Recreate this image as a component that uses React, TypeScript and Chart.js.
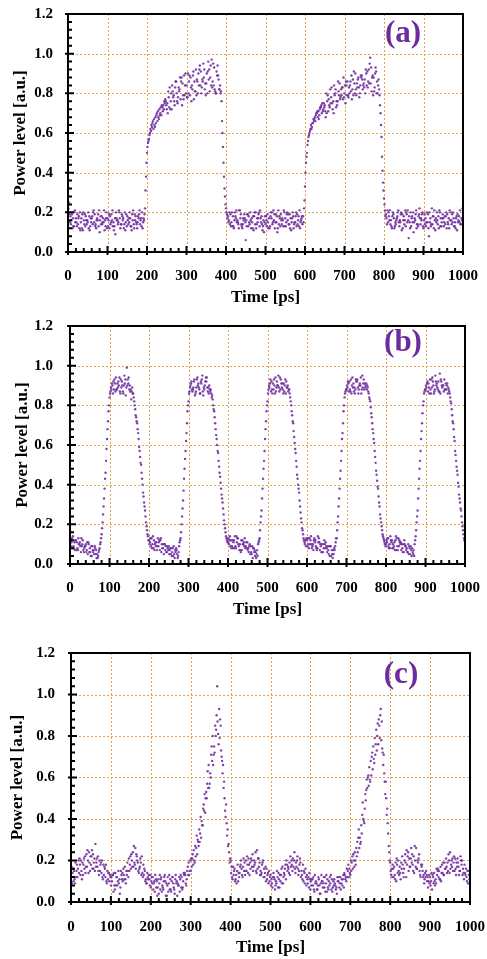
import React, { useEffect, useRef } from "react";
import { Chart, registerables } from "chart.js";

Chart.register(...registerables);

// ---------- axes ----------
const TIME_MIN_PS = 0;
const TIME_MAX_PS = 1000;
const TIME_MAJOR_PS = 100;
const TIME_MINOR_PS = 20;
const POWER_MIN = 0;
const POWER_MAX = 1.2;
const POWER_MAJOR = 0.2;
const POWER_MINOR = 0.04;
const X_TITLE = "Time [ps]";
const Y_TITLE = "Power level [a.u.]";
const PANEL_LABELS = ["(a)", "(b)", "(c)"];

// ---------- sampling ----------
// each trace is sampled every 5 ps; the four traces are interleaved in time
const SAMPLE_STEP_PS = 5;
const TRACE_OFFSETS_PS = [0, 1.25, 2.5, 3.75];
const VALUE_SCALE = 0.01; // values below are in hundredths of an a.u.

// ---------- panel (a) ----------
const A_TRACE_1 = [
  33,15,19,13,17,14,20,12,16,18,
  15,11,17,21,14,16,10,18,15,13,
  17,12,19,15,9,16,20,14,17,11,
  18,15,13,21,16,12,19,17,15,22,
  50,57,61,66,63,70,67,73,71,75,
  72,78,76,81,74,80,83,77,85,79,
  84,80,88,82,86,79,90,84,87,92,
  85,96,88,83,93,80,89,84,66,38,
  22,18,14,20,12,17,15,21,13,16,
  6,19,14,17,11,20,15,13,18,16,
  14,19,12,17,21,15,10,18,16,13,
  17,20,14,11,18,15,19,13,16,18,
  33,50,59,64,65,68,70,67,73,71,
  74,70,77,75,72,79,76,81,78,83,
  80,84,78,86,82,85,79,88,84,87,
  83,90,86,98,88,81,91,84,74,48,
  27,19,15,21,12,17,14,20,16,11,
  18,13,21,15,17,10,19,14,22,16,
  12,17,15,20,14,18,11,16,21,13,
  17,14,19,12,16,20,15,11,18,14,
  30,
];
const A_TRACE_2 = [
  22,18,12,20,15,17,11,19,14,16,
  20,13,18,15,12,19,16,14,21,17,
  13,18,16,11,20,14,17,19,12,15,
  16,20,11,14,18,15,21,13,17,31,
  53,59,64,62,68,66,72,69,74,77,
  75,73,80,78,83,76,81,86,79,84,
  78,86,83,89,81,87,84,91,86,82,
  90,87,94,86,82,91,87,80,60,32,
  20,15,19,13,16,21,14,17,12,19,
  16,13,20,15,18,12,17,21,14,10,
  18,15,13,20,16,19,12,17,14,21,
  13,16,19,15,12,18,14,21,17,15,
  40,54,60,62,67,66,71,69,74,72,
  71,76,74,78,76,80,74,79,82,77,
  84,79,83,81,87,80,85,83,89,82,
  87,84,92,85,89,83,80,87,70,41,
  24,17,20,14,18,12,16,21,15,19,
  14,20,16,12,18,15,21,13,17,19,
  16,13,19,15,22,12,17,14,20,15,
  13,18,15,21,14,17,12,19,15,17,
  32,
];
const A_TRACE_3 = [
  25,14,17,21,13,18,15,11,19,14,
  12,17,14,19,16,13,18,15,11,20,
  16,14,21,13,17,15,12,18,14,19,
  14,17,19,12,15,18,14,20,16,38,
  55,60,63,67,65,71,69,74,72,76,
  70,83,72,79,86,75,82,88,77,90,
  78,89,76,91,81,86,92,80,95,85,
  80,92,84,95,81,89,82,81,53,28,
  19,16,13,18,20,15,12,19,14,17,
  13,18,16,12,20,14,19,17,11,15,
  16,12,18,14,19,15,21,13,17,20,
  15,19,12,17,14,20,16,12,18,22,
  45,56,61,63,66,69,68,72,70,75,
  68,79,73,83,70,82,76,85,79,88,
  75,86,80,89,79,90,83,78,88,84,
  80,91,85,93,79,90,86,82,64,35,
  21,14,18,16,20,13,17,15,19,12,
  16,19,7,20,15,17,12,18,14,20,
  19,15,12,17,14,21,15,18,13,17,
  15,20,14,16,19,13,17,15,21,16,
  34,
];
const A_TRACE_4 = [
  19,16,13,15,19,12,17,20,13,16,
  18,15,20,13,17,21,14,17,16,12,
  19,15,13,17,16,21,14,16,20,13,
  17,13,16,19,14,17,16,12,19,45,
  56,62,65,64,69,68,70,73,76,74,
  81,72,84,76,86,78,88,74,89,80,
  90,79,84,77,92,80,94,83,88,79,
  91,81,97,84,80,94,82,76,45,24,
  17,20,15,13,18,16,21,14,17,15,
  19,15,12,18,14,17,20,15,13,18,
  13,17,20,15,12,18,14,19,16,13,
  19,14,17,20,15,13,18,15,14,26,
  48,58,62,65,67,70,71,73,75,73,
  80,71,82,75,84,73,86,77,83,78,
  86,79,84,77,91,82,87,80,89,85,
  92,83,95,81,88,93,80,79,58,31,
  18,21,16,13,19,15,18,13,20,16,
  21,15,18,13,20,16,14,19,17,13,
  14,20,8,13,18,16,20,12,17,19,
  18,12,17,20,15,13,18,16,14,22,
  36,
];

// ---------- panel (b) ----------
const B_TRACE_1 = [
  10,13,8,12,7,11,9,6,10,5,
  8,4,7,5,3,8,15,29,46,68,
  84,88,92,87,91,94,89,86,93,90,
  88,83,86,78,71,59,50,36,27,17,
  12,9,14,10,7,11,13,8,10,6,
  9,5,8,3,7,6,13,28,48,66,
  82,90,87,93,89,91,86,95,88,92,
  89,87,85,77,65,56,44,33,22,14,
  11,14,9,12,8,13,10,7,11,9,
  7,10,5,8,6,4,13,27,48,68,
  82,89,92,88,94,90,87,91,86,93,
  89,88,80,71,58,45,36,23,15,10,
  12,8,14,10,11,7,13,9,6,10,
  8,5,9,3,7,13,29,47,66,84,
  88,91,87,94,89,92,86,90,95,88,
  91,87,82,71,61,47,38,25,17,12,
  10,13,8,12,9,14,7,11,10,6,
  9,6,8,4,7,14,27,48,67,82,
  88,92,86,93,90,95,89,87,92,90,
  88,91,87,81,71,57,47,35,27,17,
  12,
];
const B_TRACE_2 = [
  12,8,11,7,13,9,10,8,6,11,
  6,9,5,7,4,10,18,33,52,72,
  86,91,88,94,89,87,92,90,85,93,
  90,87,84,75,68,57,46,34,24,15,
  10,13,8,11,9,12,6,10,7,9,
  5,8,4,7,5,9,16,32,53,71,
  86,91,88,85,93,89,92,87,90,94,
  86,88,83,74,63,52,41,31,20,13,
  13,9,12,8,14,10,7,12,9,11,
  8,5,9,6,3,10,17,33,52,72,
  86,91,88,93,87,90,94,89,91,86,
  90,86,77,67,56,43,32,21,13,12,
  9,13,10,7,12,8,11,6,10,8,
  6,9,4,7,9,17,33,52,71,86,
  90,87,93,89,86,92,88,94,89,91,
  88,86,79,68,57,45,34,23,15,11,
  12,9,14,8,11,7,13,10,8,12,
  7,10,5,8,4,17,33,52,71,86,
  90,87,93,89,86,92,88,96,90,87,
  91,86,86,78,68,55,45,33,24,15,
  10,
];
const B_TRACE_3 = [
  9,14,7,11,10,6,12,9,7,10,
  4,7,9,3,6,11,21,38,58,77,
  87,90,93,88,92,86,90,95,89,91,
  87,89,82,74,66,54,43,31,21,14,
  11,8,12,9,13,7,10,5,9,8,
  7,4,9,6,3,11,20,37,57,77,
  87,92,89,86,94,88,91,85,92,89,
  90,86,80,71,60,49,38,28,18,12,
  10,12,8,14,11,9,6,10,13,8,
  6,9,3,7,5,11,21,38,57,77,
  88,93,86,90,89,95,88,91,87,92,
  87,84,75,64,52,40,29,18,12,9,
  13,10,8,12,9,14,7,10,8,11,
  9,4,7,5,11,21,38,57,77,87,
  89,92,86,91,88,93,90,86,91,89,
  90,84,76,66,54,42,31,21,14,10,
  11,8,12,10,7,13,9,11,6,10,
  8,5,9,6,10,21,38,57,76,87,
  89,91,88,94,87,90,92,86,89,93,
  88,89,84,75,64,52,41,31,21,13,
  9,
];
const B_TRACE_4 = [
  11,9,12,8,10,13,7,9,11,6,
  9,6,8,5,7,13,25,43,63,80,
  89,86,91,88,90,93,87,91,99,94,
  88,86,80,72,63,51,40,29,19,12,
  13,10,7,11,9,12,8,10,6,7,
  8,6,5,8,4,12,24,43,62,80,
  89,88,92,87,90,86,93,89,94,87,
  88,84,78,68,57,46,35,25,16,11,
  12,8,11,9,13,7,12,10,8,11,
  9,6,8,4,7,12,24,43,63,80,
  90,87,91,86,92,89,93,88,90,89,
  88,82,72,61,49,38,26,17,11,13,
  10,12,9,13,8,11,10,6,12,9,
  7,9,5,8,13,24,43,63,80,88,
  92,88,90,87,93,89,91,88,93,90,
  89,83,74,63,51,39,29,19,13,9,
  13,10,11,8,12,9,12,7,10,9,
  6,9,7,5,12,24,43,63,80,88,
  91,89,86,92,88,91,87,93,90,88,
  90,88,82,72,62,49,39,28,19,12,
  8,
];

// ---------- panel (c) ----------
const C_TRACE_1 = [
  12,16,9,18,14,20,13,22,17,24,
  18,23,15,21,13,19,11,16,9,14,
  8,13,6,12,9,15,10,17,13,21,
  16,24,18,22,14,19,12,15,9,13,
  7,12,5,10,4,11,7,13,3,9,
  6,12,4,10,8,13,7,14,11,19,
  15,23,19,32,27,41,37,52,50,66,
  60,80,72,90,76,85,62,50,38,28,
  20,11,16,9,14,18,12,19,15,21,
  16,23,18,14,21,15,19,12,16,9,
  13,7,11,9,14,10,17,13,20,16,
  22,15,24,17,13,19,11,14,8,12,
  6,11,5,9,12,4,10,7,13,6,
  9,5,11,7,10,12,8,14,10,18,
  13,22,17,26,31,28,42,38,54,61,
  58,72,67,83,76,90,74,62,50,33,
  19,12,17,10,20,14,22,16,12,24,
  17,23,14,26,19,13,18,9,15,7,
  12,6,14,9,16,11,18,13,21,15,
  24,17,22,13,19,15,20,11,16,9,
  14,
];
const C_TRACE_2 = [
  17,10,19,12,21,15,18,14,25,19,
  22,16,28,17,20,14,18,12,15,10,
  12,5,14,8,11,13,16,11,19,15,
  23,17,26,20,16,13,18,10,14,11,
  10,6,13,3,9,12,6,10,8,13,
  5,9,11,3,12,7,10,13,15,13,
  21,18,27,23,35,31,45,43,57,55,
  71,66,85,104,93,73,66,44,32,24,
  14,17,10,15,12,20,17,13,22,18,
  21,15,19,25,17,13,20,14,11,15,
  8,12,6,15,11,13,9,16,18,14,
  17,21,16,20,15,12,18,9,13,7,
  10,8,13,6,11,9,7,12,5,10,
  13,7,9,4,12,6,11,13,16,12,
  20,16,24,22,35,29,48,45,59,56,
  68,64,79,73,88,93,72,58,42,27,
  15,18,13,21,15,11,18,20,25,15,
  21,18,27,16,21,12,15,11,13,10,
  8,13,10,16,12,17,14,19,17,23,
  16,21,15,19,17,22,13,18,12,15,
  10,
];
const C_TRACE_3 = [
  9,15,12,16,18,11,21,17,20,15,
  25,19,17,22,15,20,13,18,11,13,
  10,14,8,10,4,11,13,9,15,18,
  20,27,16,19,17,22,13,11,12,8,
  12,9,11,7,13,5,10,3,12,6,
  10,7,13,9,5,12,14,9,17,15,
  17,25,22,30,29,39,47,50,63,57,
  75,71,80,87,79,70,55,41,35,19,
  17,13,11,18,14,16,21,15,18,13,
  20,17,24,16,19,14,12,17,13,10,
  11,14,8,12,7,16,12,18,15,19,
  20,17,14,22,18,15,10,16,11,14,
  8,12,9,6,8,13,9,5,11,8,
  6,10,8,12,7,9,13,11,12,16,
  15,23,20,29,26,37,40,52,55,65,
  61,75,71,80,85,78,66,52,45,24,
  13,16,11,18,13,19,14,23,18,21,
  26,15,20,16,23,18,12,14,10,13,
  10,12,8,13,15,10,19,16,14,20,
  18,15,21,17,13,20,16,14,10,13,
  11,
];
const C_TRACE_4 = [
  14,11,15,20,13,19,16,23,14,22,
  16,21,19,15,18,12,17,10,14,12,
  13,8,12,15,7,14,11,15,12,22,
  17,19,23,15,21,14,16,9,11,13,
  9,10,7,11,6,8,12,9,5,11,
  12,6,9,8,11,6,13,8,13,20,
  21,20,26,29,33,37,44,53,55,62,
  68,75,83,81,88,68,58,47,27,21,
  12,15,13,10,17,13,15,20,14,19,
  17,20,15,21,13,18,16,10,14,12,
  9,12,10,7,13,9,14,11,17,13,
  18,20,19,16,21,13,15,12,9,11,
  11,6,10,8,4,10,12,9,7,12,
  11,8,6,10,9,11,7,12,15,14,
  19,20,18,24,31,33,39,49,60,59,
  70,69,76,86,79,87,71,58,38,20,
  16,12,19,14,17,16,12,19,22,17,
  19,22,17,20,15,17,13,12,12,9,
  14,9,11,15,11,14,13,16,19,14,
  20,19,16,21,15,18,14,13,15,11,
  13,
];

// ---------- styling ----------
const PAGE_W = 487;
const PAGE_H = 959;
const FONT_FAMILY = '"Liberation Serif", "Times New Roman", serif';
const POINT_COLOR = "rgba(112, 48, 160, 0.9)";
const LABEL_COLOR = "#6B2D9E";
const GRID_COLOR = "#E3A14C";

type PanelLayout = {
  top: number;
  height: number;
  left: number;
  right: number;
  plotTop: number;
  plotBottom: number;
  yTickPad: number;
  xTickPad: number;
  yTitlePad: number;
  xTitlePad: number;
  labelX: number;
  labelY: number;
};

const LAYOUTS: PanelLayout[] = [
  { top: 0, height: 310, left: 68, right: 463, plotTop: 14, plotBottom: 252, yTickPad: 15, xTickPad: 15, yTitlePad: 10.8, xTitlePad: 1.8, labelX: 403, labelY: 34 },
  { top: 310, height: 320, left: 70, right: 465, plotTop: 16, plotBottom: 254, yTickPad: 17, xTickPad: 15, yTitlePad: 12.8, xTitlePad: 9.8, labelX: 403, labelY: 33 },
  { top: 630, height: 329, left: 71, right: 470, plotTop: 23, plotBottom: 272, yTickPad: 16, xTickPad: 16, yTitlePad: 7.3, xTitlePad: 1.5, labelX: 401, labelY: 45 },
];

const decorPlugin = {
  id: "panelDecor",
  beforeDatasetsDraw(chart: any) {
    const { ctx, chartArea: a, scales } = chart;
    const xs = scales.x;
    const ys = scales.y;
    ctx.save();
    ctx.strokeStyle = GRID_COLOR;
    ctx.lineWidth = 1;
    ctx.setLineDash([2, 2]);
    ctx.beginPath();
    const nX = Math.round((TIME_MAX_PS - TIME_MIN_PS) / TIME_MAJOR_PS);
    for (let i = 1; i < nX; i++) {
      const px = Math.round(xs.getPixelForValue(TIME_MIN_PS + i * TIME_MAJOR_PS)) + 0.5;
      ctx.moveTo(px, a.top);
      ctx.lineTo(px, a.bottom);
    }
    const nY = Math.round((POWER_MAX - POWER_MIN) / POWER_MAJOR);
    for (let i = 1; i < nY; i++) {
      const py = Math.round(ys.getPixelForValue(POWER_MIN + i * POWER_MAJOR)) + 0.5;
      ctx.moveTo(a.left, py);
      ctx.lineTo(a.right, py);
    }
    ctx.stroke();
    ctx.restore();
  },
  afterDraw(chart: any, _args: any, opts: any) {
    const { ctx, chartArea: a, scales } = chart;
    const xs = scales.x;
    const ys = scales.y;
    ctx.save();
    ctx.setLineDash([]);
    ctx.strokeStyle = "#000";
    ctx.lineWidth = 2;
    ctx.strokeRect(a.left, a.top, a.right - a.left, a.bottom - a.top);

    // inward tick marks (major crossing the axis)
    ctx.beginPath();
    const nXm = Math.round((TIME_MAX_PS - TIME_MIN_PS) / TIME_MINOR_PS);
    const perMajorX = Math.round(TIME_MAJOR_PS / TIME_MINOR_PS);
    for (let i = 0; i <= nXm; i++) {
      const px = xs.getPixelForValue(TIME_MIN_PS + i * TIME_MINOR_PS);
      const major = i % perMajorX === 0;
      ctx.moveTo(px, a.bottom + (major ? 3 : 0));
      ctx.lineTo(px, a.bottom - (major ? 6 : 4));
    }
    const nYm = Math.round((POWER_MAX - POWER_MIN) / POWER_MINOR);
    const perMajorY = Math.round(POWER_MAJOR / POWER_MINOR);
    for (let i = 0; i <= nYm; i++) {
      const py = ys.getPixelForValue(POWER_MIN + i * POWER_MINOR);
      const major = i % perMajorY === 0;
      ctx.moveTo(a.left - (major ? 3 : 0), py);
      ctx.lineTo(a.left + (major ? 6 : 4), py);
    }
    ctx.stroke();

    if (opts && opts.label) {
      ctx.fillStyle = LABEL_COLOR;
      ctx.font = `bold 31px ${FONT_FAMILY}`;
      ctx.textAlign = "center";
      ctx.textBaseline = "middle";
      ctx.fillText(opts.label, opts.labelX, opts.labelY);
    }
    ctx.restore();
  },
};

function Panel({ traces, label, layout }: { traces: number[][]; label: string; layout: PanelLayout }) {
  const ref = useRef<HTMLCanvasElement | null>(null);

  useEffect(() => {
    const canvas = ref.current;
    if (!canvas) return;
    const points = traces
      .flatMap((trace, k) =>
        trace.map((v, i) => ({ x: i * SAMPLE_STEP_PS + TRACE_OFFSETS_PS[k], y: v * VALUE_SCALE }))
      )
      .filter((p) => p.x <= TIME_MAX_PS);

    const tickFont = { family: FONT_FAMILY, size: 15, weight: "bold" as const };
    const titleFont = { family: FONT_FAMILY, size: 17, weight: "bold" as const };

    const chart = new Chart(canvas, {
      type: "scatter",
      data: {
        datasets: [
          {
            data: points,
            pointRadius: 1.2,
            pointHoverRadius: 1.2,
            pointBackgroundColor: POINT_COLOR,
            pointBorderWidth: 0,
            showLine: false,
          },
        ],
      },
      options: {
        responsive: false,
        animation: false,
        events: [],
        layout: { padding: { left: 0, top: layout.plotTop, right: PAGE_W - layout.right, bottom: 0 } },
        plugins: {
          legend: { display: false },
          tooltip: { enabled: false },
          panelDecor: { label, labelX: layout.labelX, labelY: layout.labelY },
        } as any,
        scales: {
          x: {
            type: "linear",
            min: TIME_MIN_PS,
            max: TIME_MAX_PS,
            grid: { display: false, drawTicks: false, tickLength: 0 },
            border: { display: false },
            ticks: {
              stepSize: TIME_MAJOR_PS,
              autoSkip: false,
              maxRotation: 0,
              padding: layout.xTickPad,
              color: "#000",
              font: tickFont,
              callback: (v: any) => String(v),
            },
            title: {
              display: true,
              text: X_TITLE,
              color: "#000",
              font: titleFont,
              padding: { top: 0, bottom: layout.xTitlePad },
            },
            afterFit: (s: any) => {
              s.height = layout.height - layout.plotBottom;
              s.paddingLeft = 0;
              s.paddingRight = 0;
            },
          },
          y: {
            type: "linear",
            min: POWER_MIN,
            max: POWER_MAX,
            grid: { display: false, drawTicks: false, tickLength: 0 },
            border: { display: false },
            ticks: {
              stepSize: POWER_MAJOR,
              padding: layout.yTickPad,
              color: "#000",
              font: tickFont,
              callback: (v: any) => Number(v).toFixed(1),
            },
            title: {
              display: true,
              text: Y_TITLE,
              color: "#000",
              font: titleFont,
              padding: { top: layout.yTitlePad, bottom: 0 },
            },
            afterFit: (s: any) => {
              s.width = layout.left;
              s.paddingTop = 0;
              s.paddingBottom = 0;
            },
          },
        },
      } as any,
      plugins: [decorPlugin as any],
    });
    return () => chart.destroy();
  }, [traces, label, layout]);

  return (
    <canvas
      ref={ref}
      width={PAGE_W}
      height={layout.height}
      style={{ position: "absolute", left: 0, top: layout.top, width: PAGE_W, height: layout.height }}
    />
  );
}

const PANEL_TRACES = [
  [A_TRACE_1, A_TRACE_2, A_TRACE_3, A_TRACE_4],
  [B_TRACE_1, B_TRACE_2, B_TRACE_3, B_TRACE_4],
  [C_TRACE_1, C_TRACE_2, C_TRACE_3, C_TRACE_4],
];

export default function App() {
  return (
    <div style={{ position: "absolute", left: 0, top: 0, width: PAGE_W, height: PAGE_H, background: "#fff" }}>
      {PANEL_TRACES.map((traces, i) => (
        <Panel key={i} traces={traces} label={PANEL_LABELS[i]} layout={LAYOUTS[i]} />
      ))}
    </div>
  );
}
